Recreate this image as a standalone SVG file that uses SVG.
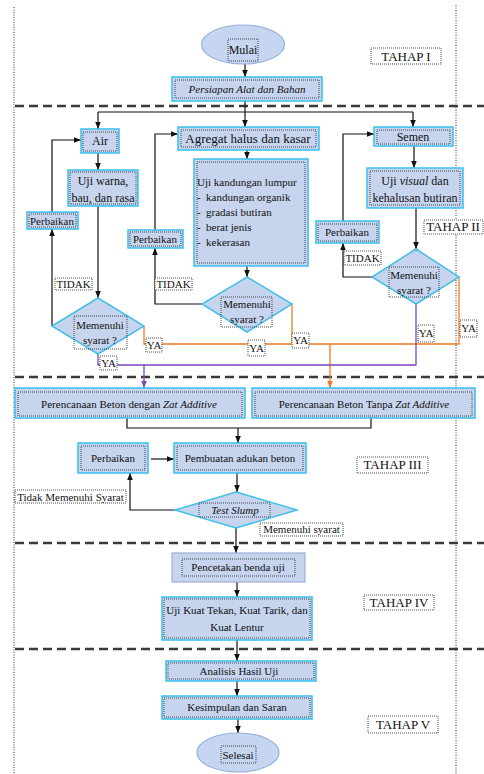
<svg xmlns="http://www.w3.org/2000/svg" width="484" height="774" viewBox="0 0 484 774">
<style>
.bg{fill:#ffffff}
.box{fill:#c6d4ee;stroke:#38c0ec;stroke-width:1.5}
.box2{fill:#c6d4ee;stroke:#9db0d8;stroke-width:1.2}
.ell{fill:#c6d6f0;stroke:#98b1db;stroke-width:1.2}
.dia{fill:#c6d4ee;stroke:#43c0e8;stroke-width:1.5}
.dot{fill:none;stroke:#222;stroke-width:0.8;stroke-dasharray:1 1}
.lbl{fill:#ffffff;stroke:#222;stroke-width:0.8;stroke-dasharray:1 1}
.t{font-family:"Liberation Serif","Times New Roman",serif;font-size:11px;fill:#111;text-anchor:middle}
.s12{font-size:12px}
.s13{font-size:13px}
.l{text-anchor:start}
.i{font-style:italic}
.c{fill:none;stroke:#111;stroke-width:1.2}
.or{fill:none;stroke:#f07a1a;stroke-width:1.3}
.pu{fill:none;stroke:#7b45c0;stroke-width:1.3}
.sep{stroke:#3a3a3a;stroke-width:2.5;stroke-dasharray:9 5;fill:none}
.frame{stroke:#333;stroke-width:1;stroke-dasharray:1 1.5;fill:none}
</style>
<defs>
<marker id="a" viewBox="0 0 10 10" refX="10" refY="5" markerWidth="7" markerHeight="7" orient="auto" markerUnits="userSpaceOnUse"><path d="M0,1 L10,5 L0,9 z" fill="#111"/></marker>
<marker id="ao" viewBox="0 0 10 10" refX="10" refY="5" markerWidth="7" markerHeight="7" orient="auto" markerUnits="userSpaceOnUse"><path d="M0,1 L10,5 L0,9 z" fill="#f07a1a"/></marker>
<marker id="ap" viewBox="0 0 10 10" refX="10" refY="5" markerWidth="7" markerHeight="7" orient="auto" markerUnits="userSpaceOnUse"><path d="M0,1 L10,5 L0,9 z" fill="#7b45c0"/></marker>
</defs>
<rect class="bg" x="0" y="0" width="484" height="774"/>
<g id="frame">
<line class="frame" x1="14" y1="7" x2="14" y2="774"/>
<line class="frame" x1="456" y1="5" x2="456" y2="774"/>
<line class="sep" x1="15" y1="106" x2="484" y2="106"/>
<line class="sep" x1="15" y1="377" x2="484" y2="377"/>
<line class="sep" x1="15" y1="543" x2="484" y2="543"/>
<line class="sep" x1="15" y1="649" x2="484" y2="649"/>
</g>
<g id="connectors">
<path class="c" d="M245 64 V77" marker-end="url(#a)"/>
<path class="c" d="M245 101 V127" marker-end="url(#a)"/>
<path class="c" d="M98 112 H413"/>
<path class="c" d="M98 112 V129" marker-end="url(#a)"/>
<path class="c" d="M413 112 V127" marker-end="url(#a)"/>
<path class="c" d="M98 153 V170" marker-end="url(#a)"/>
<path class="c" d="M98 206 V298" marker-end="url(#a)"/>
<path class="c" d="M52 326 V229" marker-end="url(#a)"/>
<path class="c" d="M52 212 V140 H81" marker-end="url(#a)"/>
<path class="c" d="M247 150 V159" marker-end="url(#a)"/>
<path class="c" d="M247 266 V277" marker-end="url(#a)"/>
<path class="c" d="M202 304 H155 V248" marker-end="url(#a)"/>
<path class="c" d="M155 230 V134 H178" marker-end="url(#a)"/>
<path class="c" d="M414 146 V168" marker-end="url(#a)"/>
<path class="c" d="M416 208 V249" marker-end="url(#a)"/>
<path class="c" d="M372 277 H343 V243" marker-end="url(#a)"/>
<path class="c" d="M343 221 V134 H374" marker-end="url(#a)"/>
<path class="or" d="M144 326 V344 H459 V277"/>
<path class="or" d="M292 304 V344"/>
<path class="or" d="M330 344 V388" marker-end="url(#ao)"/>
<path class="pu" d="M98 354 V365 H416 V304"/>
<path class="pu" d="M144 365 V388" marker-end="url(#ap)"/>
<path class="c" d="M127 418 V428 H371 V418"/>
<path class="c" d="M238 428 V443" marker-end="url(#a)"/>
<path class="c" d="M151 459 H174" marker-end="url(#a)"/>
<path class="c" d="M237 473 V492" marker-end="url(#a)"/>
<path class="c" d="M175 510 H130 V473" marker-end="url(#a)"/>
<path class="c" d="M236 528 V553" marker-end="url(#a)"/>
<path class="c" d="M237 582 V597" marker-end="url(#a)"/>
<path class="c" d="M237 640 V661" marker-end="url(#a)"/>
<path class="c" d="M237 681 V696" marker-end="url(#a)"/>
<path class="c" d="M238 719 V733" marker-end="url(#a)"/>
</g>
<g id="mulai">
<ellipse class="ell" cx="243" cy="44.5" rx="41.5" ry="19.5"/>
<rect class="dot" x="228" y="39" width="30" height="22"/>
<text class="t s12" x="243" y="54">Mulai</text>
</g>
<g id="tahap1">
<rect class="lbl" x="371" y="48" width="70" height="16"/>
<text class="t s13" x="406" y="61">TAHAP I</text>
</g>
<g id="persiapan">
<rect class="box" x="172" y="77" width="150" height="24"/>
<rect class="dot" x="175" y="80" width="144" height="18"/>
<text class="t i" x="247" y="93">Persiapan Alat dan Bahan</text>
</g>
<g id="air">
<rect class="box" x="81" y="129" width="38" height="24"/>
<rect class="dot" x="83" y="132" width="34" height="19"/>
<text class="t s12" x="100" y="145">Air</text>
</g>
<g id="agregat">
<rect class="box" x="178" y="127" width="141" height="23"/>
<rect class="dot" x="181" y="130" width="135" height="17"/>
<text class="t s13" x="248" y="143">Agregat halus dan kasar</text>
</g>
<g id="semen">
<rect class="box" x="374" y="127" width="79" height="19"/>
<rect class="dot" x="377" y="130" width="73" height="14"/>
<text class="t s12" x="413" y="141">Semen</text>
</g>
<g id="uji-warna">
<rect class="box" x="68" y="170" width="70" height="36"/>
<rect class="dot" x="70" y="172" width="66" height="32"/>
<text class="t s12" x="103" y="185">Uji warna,</text>
<text class="t s12" x="103" y="202">bau, dan rasa</text>
</g>
<g id="uji-kandungan">
<rect class="box" x="194" y="159" width="114" height="107"/>
<rect class="dot" x="197" y="162" width="108" height="101"/>
<text class="t l" x="197" y="186">Uji kandungan lumpur</text>
<text class="t l" x="197" y="201">- <tspan x="206">kandungan organik</tspan></text>
<text class="t l" x="197" y="216">- <tspan x="206">gradasi butiran</tspan></text>
<text class="t l" x="197" y="231">- <tspan x="206">berat jenis</tspan></text>
<text class="t l" x="197" y="246">- <tspan x="206">kekerasan</tspan></text>
</g>
<g id="uji-visual">
<rect class="box" x="367" y="168" width="96" height="40"/>
<rect class="dot" x="370" y="171" width="90" height="34"/>
<text class="t s12" x="415" y="185">Uji <tspan class="i">visual</tspan> dan</text>
<text class="t s12" x="415" y="202">kehalusan butiran</text>
</g>
<g id="tahap2">
<rect class="lbl" x="424" y="220" width="59" height="14"/>
<text class="t s13" x="453" y="231">TAHAP II</text>
</g>
<g id="perbaikan-air">
<rect class="box" x="27" y="212" width="51" height="17"/>
<rect class="dot" x="29" y="214" width="47" height="13"/>
<text class="t" x="52" y="225">Perbaikan</text>
</g>
<g id="perbaikan-agregat">
<rect class="box" x="128" y="230" width="55" height="18"/>
<rect class="dot" x="130" y="232" width="51" height="14"/>
<text class="t" x="155" y="243">Perbaikan</text>
</g>
<g id="perbaikan-semen">
<rect class="box" x="316" y="221" width="63" height="22"/>
<rect class="dot" x="318" y="224" width="59" height="17"/>
<text class="t" x="347" y="236">Perbaikan</text>
</g>
<g id="syarat-air">
<polygon class="dia" points="98,298 144,326 98,354 52,326"/>
<rect class="dot" x="74" y="316" width="53" height="33"/>
<text class="t" x="100" y="329">Memenuhi</text>
<text class="t" x="100" y="344">syarat ?</text>
</g>
<g id="syarat-agregat">
<polygon class="dia" points="247,277 292,304 247,332 202,304"/>
<rect class="dot" x="221" y="297" width="51" height="30"/>
<text class="t" x="247" y="308">Memenuhi</text>
<text class="t" x="247" y="323">syarat ?</text>
</g>
<g id="syarat-semen">
<polygon class="dia" points="416,249 459,277 416,304 372,277"/>
<rect class="dot" x="389" y="267" width="50" height="30"/>
<text class="t" x="414" y="279">Memenuhi</text>
<text class="t" x="414" y="294">syarat ?</text>
</g>
<g id="labels-tidak">
<rect class="lbl" x="55" y="278" width="37" height="12"/>
<text class="t" x="73.5" y="288">TIDAK</text>
<rect class="lbl" x="155" y="278" width="37" height="12"/>
<text class="t" x="173.5" y="288">TIDAK</text>
<rect class="lbl" x="344" y="251" width="37" height="14"/>
<text class="t" x="362.5" y="262">TIDAK</text>
</g>
<g id="labels-ya">
<rect class="lbl" x="146" y="338" width="16" height="14"/>
<text class="t" x="154" y="349">YA</text>
<rect class="lbl" x="100" y="356" width="17" height="14"/>
<text class="t" x="108.5" y="367">YA</text>
<rect class="lbl" x="248" y="340" width="17" height="16"/>
<text class="t" x="256.5" y="352">YA</text>
<rect class="lbl" x="292" y="333" width="17" height="15"/>
<text class="t" x="300.5" y="344">YA</text>
<rect class="lbl" x="418" y="325" width="16" height="17"/>
<text class="t" x="426" y="337">YA</text>
<rect class="lbl" x="460" y="320" width="17" height="17"/>
<text class="t" x="468.5" y="332">YA</text>
</g>
<g id="perencanaan-dengan">
<rect class="box" x="15" y="388" width="230" height="30"/>
<rect class="dot" x="18" y="392" width="224" height="24"/>
<text class="t" x="129" y="408">Perencanaan Beton dengan <tspan class="i">Zat Additive</tspan></text>
</g>
<g id="perencanaan-tanpa">
<rect class="box" x="252" y="388" width="223" height="30"/>
<rect class="dot" x="255" y="392" width="217" height="24"/>
<text class="t" x="364" y="408">Perencanaan Beton Tanpa <tspan class="i">Zat Additive</tspan></text>
</g>
<g id="perbaikan-3">
<rect class="box" x="78" y="443" width="70" height="30"/>
<rect class="dot" x="81" y="446" width="64" height="24"/>
<text class="t" x="113" y="462">Perbaikan</text>
</g>
<g id="pembuatan">
<rect class="box" x="174" y="443" width="132" height="30"/>
<rect class="dot" x="177" y="446" width="126" height="24"/>
<text class="t" x="240" y="462">Pembuatan adukan beton</text>
</g>
<g id="tahap3">
<rect class="lbl" x="357" y="457" width="71" height="16"/>
<text class="t s13" x="392.5" y="469">TAHAP III</text>
</g>
<g id="test-slump">
<polygon class="dia" points="236,492 297,510 236,528 175,510"/>
<rect class="dot" x="199" y="503" width="71" height="14"/>
<text class="t i" x="235" y="514">Test Slump</text>
</g>
<g id="label-tidak-memenuhi">
<rect class="lbl" x="15" y="490" width="111" height="13"/>
<text class="t" x="70.5" y="500.5">Tidak Memenuhi Syarat</text>
</g>
<g id="label-memenuhi">
<rect class="lbl" x="260" y="523" width="83" height="13"/>
<text class="t" x="301.5" y="533">Memenuhi syarat</text>
</g>
<g id="pencetakan">
<rect class="box2" x="172" y="553" width="133" height="29"/>
<rect class="dot" x="182" y="559" width="113" height="17"/>
<text class="t" x="238" y="571">Pencetakan benda uji</text>
</g>
<g id="uji-kuat">
<rect class="box" x="162" y="597" width="150" height="43"/>
<rect class="dot" x="164" y="599" width="146" height="39"/>
<text class="t" x="237" y="614">Uji Kuat Tekan, Kuat Tarik, dan</text>
<text class="t" x="237" y="631">Kuat Lentur</text>
</g>
<g id="tahap4">
<rect class="lbl" x="364" y="595" width="70" height="15"/>
<text class="t s13" x="399" y="607">TAHAP IV</text>
</g>
<g id="analisis">
<rect class="box" x="166" y="661" width="150" height="20"/>
<rect class="dot" x="168" y="663" width="146" height="16"/>
<text class="t" x="239" y="675">Analisis Hasil Uji</text>
</g>
<g id="kesimpulan">
<rect class="box" x="162" y="696" width="150" height="23"/>
<rect class="dot" x="164" y="698" width="146" height="19"/>
<text class="t" x="237" y="711">Kesimpulan dan Saran</text>
</g>
<g id="tahap5">
<rect class="lbl" x="368" y="716" width="70" height="17"/>
<text class="t s13" x="403" y="729">TAHAP V</text>
</g>
<g id="selesai">
<ellipse class="ell" cx="238" cy="752.5" rx="41" ry="19.5"/>
<rect class="dot" x="221" y="746" width="35" height="17"/>
<text class="t" x="238" y="759">Selesai</text>
</g>
</svg>
